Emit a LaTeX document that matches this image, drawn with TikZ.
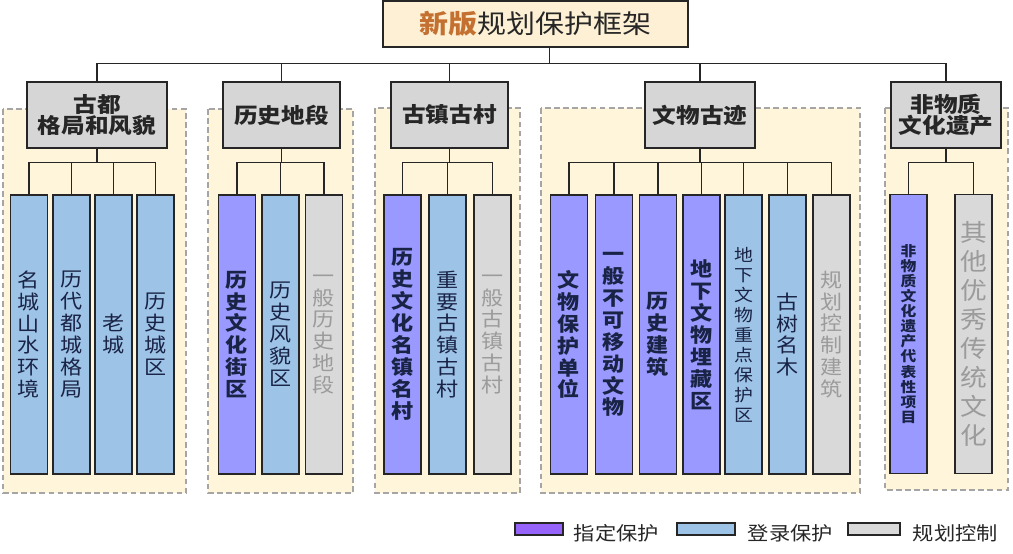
\documentclass[tikz,border=0pt]{standalone}
\usepackage{fontspec}
\setmainfont{Noto Sans CJK SC}[FakeStretch=1.12]
\usetikzlibrary{positioning,calc}
\definecolor{PlanInk}{RGB}{38,38,38}
\definecolor{PlanPurple}{RGB}{153,153,255}
\definecolor{PlanViolet}{RGB}{150,100,250}
\definecolor{PlanBlue}{RGB}{157,195,230}
\definecolor{PlanGray}{RGB}{217,217,217}
\definecolor{PlanHead}{RGB}{214,214,214}
\definecolor{PlanCream}{RGB}{255,245,218}
\definecolor{PlanTitleFill}{RGB}{253,240,212}
\definecolor{PlanBrown}{RGB}{196,112,48}
\definecolor{PlanNavy}{RGB}{25,35,70}
\definecolor{PlanDash}{RGB}{165,165,165}
\definecolor{PlanFaint}{RGB}{155,155,155}
\tikzset{
  plan/title/.style={
    draw=PlanInk,
    line width=1pt,
    fill=PlanTitleFill,
    minimum width=7.625cm,
    minimum height=1.15cm,
    text=PlanInk,
    font=\fontsize{18.4}{20}\selectfont
  },
  plan/head/.style={
    draw=PlanInk,
    line width=1pt,
    fill=PlanHead,
    align=center,
    minimum height=1.65cm,
    inner sep=0pt,
    text=PlanInk,
    font=\fontsize{15}{14.5}\selectfont\bfseries
  },
  plan/zone/.style={draw=PlanDash, line width=1pt, dash pattern=on 4pt off 2.5pt, fill=PlanCream},
  plan/col/.style={
    draw=PlanInk,
    line width=1pt,
    minimum width=0.925cm,
    minimum height=6.975cm,
    inner sep=0pt,
    text width=0.8cm,
    align=center,
    font=\fontsize{14}{15.6}\selectfont
  },
  plan/purple/.style={plan/col, fill=PlanPurple, text=PlanNavy, font=\fontsize{14}{15.6}\selectfont\bfseries},
  plan/blue/.style={plan/col, fill=PlanBlue, text=PlanNavy},
  plan/gray/.style={plan/col, fill=PlanGray, text=PlanFaint},
  plan/kind/.style={plan/#1},
  plan/link/.style={draw=PlanInk, line width=0.8pt},
  plan/key/.style={draw=PlanInk, line width=0.8pt, minimum height=0.3cm, inner sep=0pt},
  plan/keytext/.style={font=\fontsize{13.5}{14}\selectfont, text=PlanInk, inner sep=0pt}
}

\begin{document}
\begin{tikzpicture}[x=0.025cm,y=-0.025cm]
  \useasboundingbox (0,0) rectangle (1013,553);
  % dashed groups
  \draw[plan/zone] (3,109) rectangle (186,493);
  \draw[plan/zone] (208,109) rectangle (353,493);
  \draw[plan/zone] (375,108) rectangle (520,493);
  \draw[plan/zone] (541,108) rectangle (860,493);
  \draw[plan/zone] (885,108) rectangle (1008,490);

  \node[plan/title] (title) at (535.5,24) {\textcolor{PlanBrown}{\bfseries 新版}规划保护框架};
  \node[plan/head,minimum width=3.5cm] (h1) at (97,115) {古都\\格局和风貌};
  \node[plan/head,minimum width=2.925cm] (h2) at (281.5,115) {历史地段};
  \node[plan/head,minimum width=2.925cm] (h3) at (449.5,115) {古镇古村};
  \node[plan/head,minimum width=2.75cm] (h4) at (700,115) {文物古迹};
  \node[plan/head,minimum width=2.75cm] (h5) at (946,115) {非物质\\文化遗产};

  % columns
  \foreach \i/\x/\kind/\txt in {1/29/blue/名\\城\\山\\水\\环\\境, 2/71.5/blue/历\\代\\都\\城\\格\\局,
      3/113.5/blue/老\\城, 4/155.5/blue/历\\史\\城\\区}
    \node[plan/kind/.expand once=\kind] (g1c\i) at (\x,334.5) {\txt};
  \foreach \i/\x/\kind/\txt in {1/237/purple/历\\史\\文\\化\\街\\区, 2/280.5/blue/历\\史\\风\\貌\\区,
      3/324/gray/一\\般\\历\\史\\地\\段}
    \node[plan/kind/.expand once=\kind] (g2c\i) at (\x,334.5) {\txt};
  \foreach \i/\x/\kind/\txt in {1/402.5/purple/历\\史\\文\\化\\名\\镇\\名\\村, 2/447.5/blue/重\\要\\古\\镇\\古\\村,
      3/492.5/gray/一\\般\\古\\镇\\古\\村}
    \node[plan/kind/.expand once=\kind] (g3c\i) at (\x,334.5) {\txt};
  \foreach \i/\x/\kind/\txt in {1/569/purple/文\\物\\保\\护\\单\\位, 2/614/purple/一\\般\\不\\可\\移\\动\\文\\物,
      3/658/purple/历\\史\\建\\筑, 4/701.5/purple/地\\下\\文\\物\\埋\\藏\\区,
      6/787.5/blue/古\\树\\名\\木, 7/831.5/gray/规\\划\\控\\制\\建\\筑}
    \node[plan/kind/.expand once=\kind] (g4c\i) at (\x,334.5) {\txt};
  \node[plan/blue,font=\fontsize{12}{14.2}\selectfont] (g4c5) at (743.5,334.5) {地\\下\\文\\物\\重\\点\\保\\护\\区};
  \node[plan/purple,font=\fontsize{10}{10.7}\selectfont\bfseries] (g5c1) at (908.5,334) {非\\物\\质\\文\\化\\遗\\产\\代\\表\\性\\项\\目};
  \node[plan/gray,font=\fontsize{17}{20.6}\selectfont] (g5c2) at (973.5,334) {其\\他\\优\\秀\\传\\统\\文\\化};

  % tree links
  \draw[plan/link] ([xshift=0.36cm]title.south) -- ++(0,16) coordinate (trunk);
  \draw[plan/link] (h1.north) |- (trunk) -| (h5.north);
  \foreach \g in {2,3,4}
    \draw[plan/link] (h\g.north) -- (h\g.north |- trunk);
  \foreach \g/\n in {1/4,2/3,3/3,4/7,5/2} {
    \draw[plan/link] (h\g.south) -- ++(0,14) coordinate (g\g fork);
    \foreach \i in {1,...,\n}
      \draw[plan/link] (g\g fork) -| (g\g c\i.north);
  }

  % legend
  \node[plan/key,fill=PlanViolet,minimum width=1.2cm] (k1) at (539,529) {};
  \node[plan/keytext,right=0.25cm of k1,yshift=-3pt] (k1t) {指定保护};
  \node[plan/key,fill=PlanBlue,minimum width=1.45cm] (k2) at (706,529) {};
  \node[plan/keytext,right=0.3cm of k2,yshift=-3pt] (k2t) {登录保护};
  \node[plan/key,fill=PlanGray,minimum width=1.3cm] (k3) at (874,529) {};
  \node[plan/keytext,right=0.3cm of k3,yshift=-3pt] (k3t) {规划控制};
\end{tikzpicture}
\end{document}
